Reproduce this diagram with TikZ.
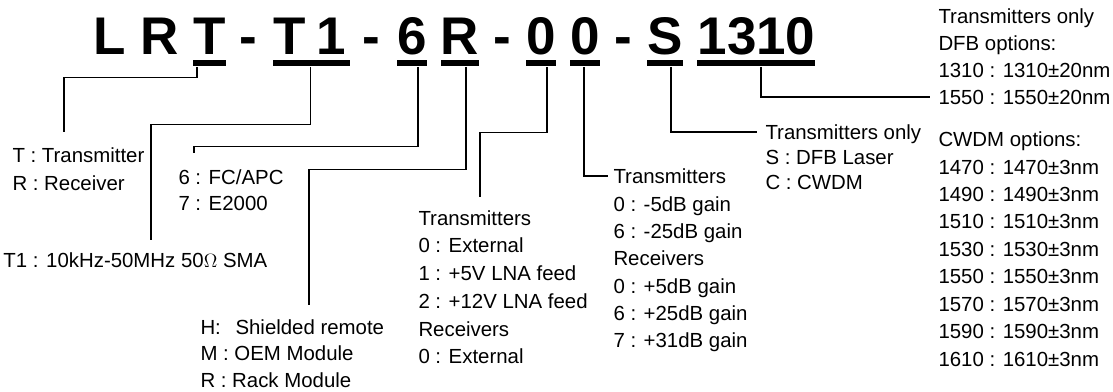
\documentclass[tikz,border=0pt]{standalone}
\usepackage{fontspec}
\setmainfont{Liberation Sans}

\tikzset{every picture/.style={line width=0.75pt}}
\tikzset{
  code/.style={anchor=base, inner sep=0pt, font=\fontsize{39.75}{40}\selectfont\bfseries},
  bar/.style={fill=black, inner sep=0pt, minimum height=4.5pt},
  lbl/.style={anchor=base west, align=left, inner sep=0pt, font=\fontsize{15.3}{#1}\selectfont},
  lead/.style={line width=0.8pt}
}

\begin{document}
\begin{tikzpicture}[x=0.75pt,y=-0.75pt]
        \useasboundingbox (0,0) rectangle (1113,392);
        % part number
        \node[code] (cL) at (110,55) {L};
        \node[code] (cR) at (160,55) {R};
        \node[code] (cT) at (210,55) {T};
        \node[code] (dA) at (248.5,55) {-};
        \node[code] (cTx) at (290,55) {T};
        \node[code] (cOne) at (331.5,55) {1};
        \node[code] (dB) at (371.5,55) {-};
        \node[code] (cSix) at (412,55) {6};
        \node[code] (cRx) at (460,55) {R};
        \node[code] (dC) at (502.5,55) {-};
        \node[code] (cOa) at (541,55) {0};
        \node[code] (cOb) at (585,55) {0};
        \node[code] (dD) at (623.5,55) {-};
        \node[code] (cS) at (665,55) {S};
        \node[code] (cWl) at (756.5,55) {1310};
        % underlines
        \node[bar, minimum width=24.75pt] (barT) at (209.5,63.5) {};
        \node[bar, minimum width=57.75pt] (barTone) at (311.5,63.5) {};
        \node[bar, minimum width=22.5pt] (barSix) at (412,63.5) {};
        \node[bar, minimum width=28.5pt] (barR) at (460,63.5) {};
        \node[bar, minimum width=22.5pt] (barOa) at (541,63.5) {};
        \node[bar, minimum width=22.5pt] (barOb) at (585,63.5) {};
        \node[bar, minimum width=27pt] (barS) at (665,63.5) {};
        \node[bar, minimum width=88.5pt] (barWl) at (756,63.5) {};
        % option texts (base = last line)
        \node[lbl=21pt] (lblT) at (12,190.3) {T : Transmitter\\R : Receiver};
        \node[lbl=20pt] (lblTone) at (3,267.3) {T1 : 10kHz-50MHz 50$\Omega$ SMA};
        \node[lbl=19.5pt] (lblSix) at (178,210.3) {6 : FC/APC\\7 : E2000};
        \node[lbl=19.9pt] (lblR) at (200,387.3) {H:\hspace{11pt}Shielded remote\\M : OEM Module\\R : Rack Module};
        \node[lbl=20.8pt] (lblOa) at (418,363.8) {Transmitters\\0 : External\\1 : +5V LNA feed\\2 : +12V LNA feed\\Receivers\\0 : External};
        \node[lbl=20.5pt] (lblOb) at (613,347.7) {Transmitters\\0 : -5dB gain\\6 : -25dB gain\\Receivers\\0 : +5dB gain\\6 : +25dB gain\\7 : +31dB gain};
        \node[lbl=18.75pt] (lblS) at (765,189.3) {Transmitters only\\S : DFB Laser\\C : CWDM};
        \node[lbl=20.25pt] (lblDfb) at (938,104.3) {Transmitters only\\DFB options:\\1310 : 1310±20nm\\1550 : 1550±20nm};
        \node[lbl=20.6pt] (lblCwdm) at (938,366.3) {CWDM options:\\1470 : 1470±3nm\\1490 : 1490±3nm\\1510 : 1510±3nm\\1530 : 1530±3nm\\1550 : 1550±3nm\\1570 : 1570±3nm\\1590 : 1590±3nm\\1610 : 1610±3nm};
        % leader lines
        \coordinate (eT) at (64,132);
        \coordinate (eTone) at (151,240);
        \coordinate (eSix) at (194,153);
        \coordinate (eR) at (309,305);
        \coordinate (eOa) at (480,197);
        \coordinate (eOb) at (608,176);
        \coordinate (eS) at (757,132);
        \coordinate (eWl) at (930,97);
        \draw[lead] ([xshift=-9.4pt]barT.south) -- ++(0,10.5) -| (eT);
        \draw[lead] ([xshift=-1.1pt]barTone.south) -- ++(0,57.5) -| (eTone);
        \draw[lead] ([xshift=4.5pt]barSix.south) -- ++(0,79.5) -| (eSix);
        \draw[lead] ([xshift=4.5pt]barR.south) -- ++(0,102.5) -| (eR);
        \draw[lead] ([xshift=4.5pt]barOa.south) -- ++(0,65.5) -| (eOa);
        \draw[lead] ([xshift=-0.75pt]barOb.south) |- (eOb);
        \draw[lead] ([xshift=4.5pt]barS.south) |- (eS);
        \draw[lead] ([xshift=3.75pt]barWl.south) |- (eWl);
    \end{tikzpicture}
\end{document}
